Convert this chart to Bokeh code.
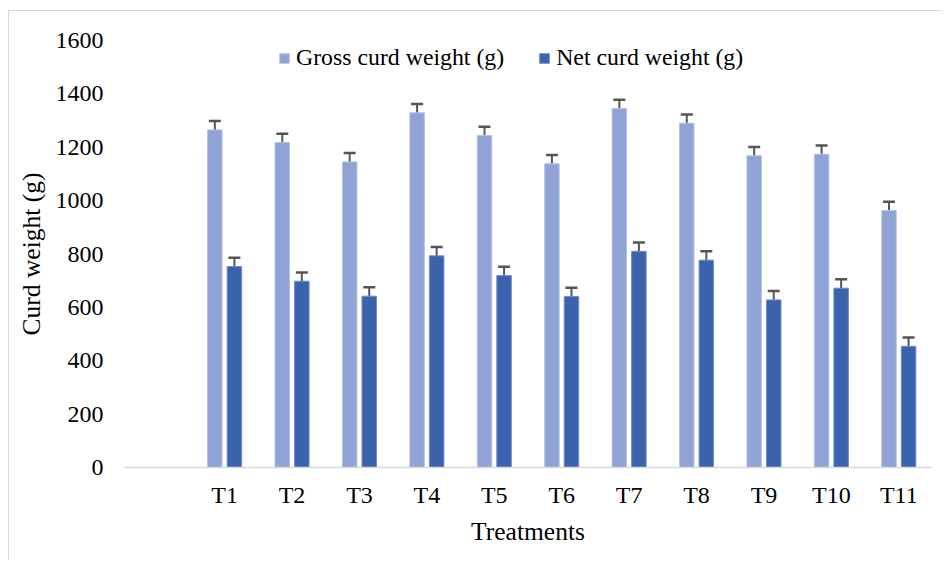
from bokeh.plotting import figure
from bokeh.models import FactorRange, ColumnDataSource, Whisker, TeeHead, Legend, LegendItem
from bokeh.transform import dodge
from bokeh.embed import file_html
from bokeh.resources import INLINE

# ---- data ----
treatments = ["T1", "T2", "T3", "T4", "T5", "T6", "T7", "T8", "T9", "T10", "T11"]
gross_weight = [1265, 1218, 1145, 1329, 1244, 1138, 1345, 1290, 1168, 1174, 963]
net_weight = [753, 698, 642, 793, 719, 641, 810, 777, 628, 672, 454]
gross_err = [33, 33, 33, 33, 33, 33, 33, 33, 33, 33, 33]
net_err = [33, 33, 33, 33, 33, 33, 33, 33, 33, 33, 33]
y_ticks = [0, 200, 400, 600, 800, 1000, 1200, 1400, 1600]

series_names = ["Gross curd weight (g)", "Net curd weight (g)"]
colors = ["#8fa4d5", "#3b63ad"]

factors = [" "] + treatments  # leading empty slot as in the original
src = ColumnDataSource(dict(
    x=treatments,
    gross=gross_weight,
    net=net_weight,
    g_up=[v + e for v, e in zip(gross_weight, gross_err)],
    g_lo=[v - e for v, e in zip(gross_weight, gross_err)],
    n_up=[v + e for v, e in zip(net_weight, net_err)],
    n_lo=[v - e for v, e in zip(net_weight, net_err)],
))

FONT = "'Liberation Serif', 'Times New Roman', serif"

p = figure(
    x_range=FactorRange(factors=factors, range_padding=0),
    y_range=(0, 1600),
    width=933, height=549,
    frame_width=809, frame_height=427,
    min_border_left=114, min_border_top=29, min_border_right=10, min_border_bottom=93,
    output_backend="svg", toolbar_location=None,
    margin=(10, 0, 0, 8),
)
p.x_range.range_padding = 0
p.outline_line_color = None
p.xgrid.grid_line_color = None
p.ygrid.grid_line_color = None
p.styles = {"border-left": "1.5px solid #d9d9d9", "border-top": "1.5px solid #d9d9d9"}

off = 0.145
bw = 0.215
r1 = p.vbar(x=dodge("x", -off, range=p.x_range), top="gross", width=bw, source=src,
            fill_color=colors[0], line_color="#b3c2e6", line_width=1)
r2 = p.vbar(x=dodge("x", off, range=p.x_range), top="net", width=bw, source=src,
            fill_color=colors[1], line_color="#6f8cc6", line_width=1)

for base_off, up, lo in [(-off, "g_up", "g_lo"), (off, "n_up", "n_lo")]:
    w = Whisker(base=dodge("x", base_off, range=p.x_range), upper=up, lower=lo, source=src,
                line_color="#555555", line_width=2,
                upper_head=TeeHead(size=12, line_color="#555555", line_width=2.5),
                lower_head=TeeHead(size=12, line_color="#555555", line_width=2.5))
    p.add_layout(w)

# axes
p.xaxis.axis_line_color = "#d9d9d9"
p.xaxis.axis_line_width = 1.5
p.xaxis.major_tick_line_color = None
p.xaxis.minor_tick_line_color = None
p.xaxis.major_label_text_font = FONT
p.xaxis.major_label_text_font_size = "24px"
p.xaxis.major_label_text_color = "#000000"
p.xaxis.major_label_standoff = 8
p.xaxis.axis_label = "Treatments"
p.xaxis.axis_label_text_font = FONT
p.xaxis.axis_label_text_font_size = "25.5px"
p.xaxis.axis_label_text_font_style = "normal"
p.xaxis.axis_label_text_color = "#000000"
p.xaxis.axis_label_standoff = 6

p.yaxis.ticker = y_ticks
p.yaxis.axis_line_color = None
p.yaxis.major_tick_line_color = None
p.yaxis.minor_tick_line_color = None
p.yaxis.major_label_text_font = FONT
p.yaxis.major_label_text_font_size = "24px"
p.yaxis.major_label_text_color = "#000000"
p.yaxis.major_label_standoff = 14
p.yaxis.axis_label = "Curd weight (g)"
p.yaxis.axis_label_text_font = FONT
p.yaxis.axis_label_text_font_size = "25.5px"
p.yaxis.axis_label_text_font_style = "normal"
p.yaxis.axis_label_text_color = "#000000"
p.yaxis.axis_label_standoff = 7

legend = Legend(
    items=[LegendItem(label=series_names[0], renderers=[r1]),
           LegendItem(label=series_names[1], renderers=[r2])],
    orientation="horizontal",
    location=(155, 396),
    label_text_font=FONT,
    label_text_font_size="23.8px",
    label_text_color="#000000",
    glyph_width=12, glyph_height=12,
    label_standoff=6, spacing=34,
    padding=0, margin=0,
    border_line_color=None,
    background_fill_alpha=0,
)
p.add_layout(legend, "center")

open("out.html", "w").write(file_html(p, INLINE))
